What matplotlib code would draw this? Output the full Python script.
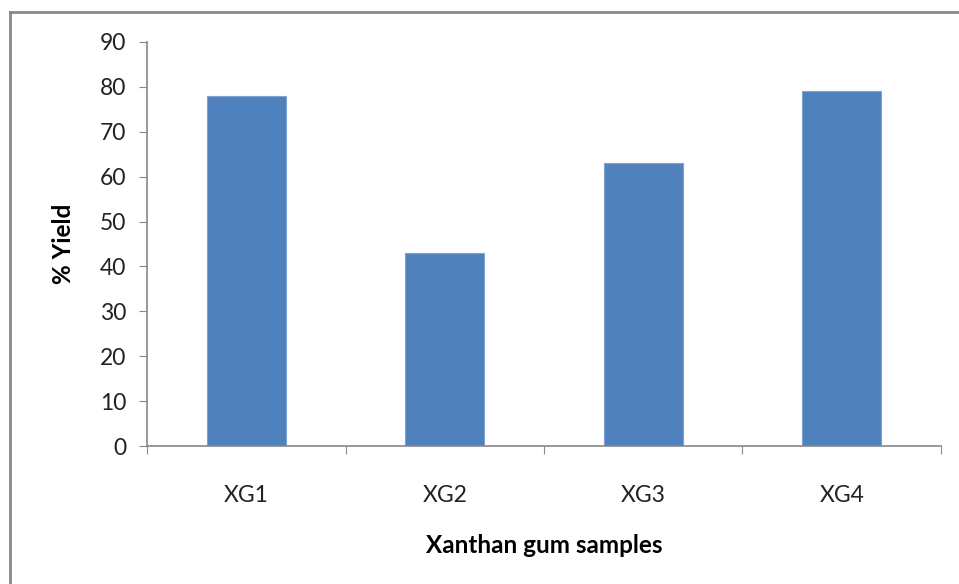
import matplotlib.pyplot as plt
from matplotlib.lines import Line2D

samples = ["XG1", "XG2", "XG3", "XG4"]
yield_pct = [78, 43, 63, 79]
y_ticks = [0, 10, 20, 30, 40, 50, 60, 70, 80, 90]

plt.rcParams["font.family"] = ["Lato", "DejaVu Sans"]

fig = plt.figure(figsize=(9.59, 5.84), dpi=100)
ax = fig.add_axes([0.1533, 0.2363, 0.8279, 0.6918])

x = range(len(samples))
ax.bar(x, yield_pct, width=0.4, color="#4F81BD", edgecolor="#7EA2D3", linewidth=0.8, zorder=2)

ax.set_xlim(-0.5, len(samples) - 0.5)
ax.set_ylim(0, 90)
ax.set_yticks(y_ticks)
ax.set_yticklabels([str(v) for v in y_ticks], fontsize=16.5, color="#222")
ax.set_xticks([i - 0.5 for i in range(len(samples) + 1)])
ax.set_xticklabels([])
ax.set_xticks(list(x), minor=True)
ax.set_xticklabels(samples, minor=True, fontsize=16.5, color="#222")
ax.tick_params(axis="x", which="minor", length=0, pad=28)
ax.tick_params(axis="x", which="major", length=6, color="#888", direction="out")
ax.tick_params(axis="y", length=6, color="#888", direction="out", pad=9)

for side in ("top", "right"):
    ax.spines[side].set_visible(False)
for side in ("left", "bottom"):
    ax.spines[side].set_color("#888")
    ax.spines[side].set_linewidth(1.2)

ax.set_ylabel("% Yield", fontsize=17.5, fontweight="bold", labelpad=18)
ax.set_xlabel("Xanthan gum samples", fontsize=17.5, fontweight="bold", labelpad=20)

# outer chart frame: only the left and top edges are inside the picture
fx, fy = 9.5 / 959, 1 - 12 / 584
fig.add_artist(Line2D([fx, fx], [0, fy], transform=fig.transFigure, color="#888", lw=2))
fig.add_artist(Line2D([fx, 1], [fy, fy], transform=fig.transFigure, color="#888", lw=2))

fig.savefig("out.png", dpi=100)
